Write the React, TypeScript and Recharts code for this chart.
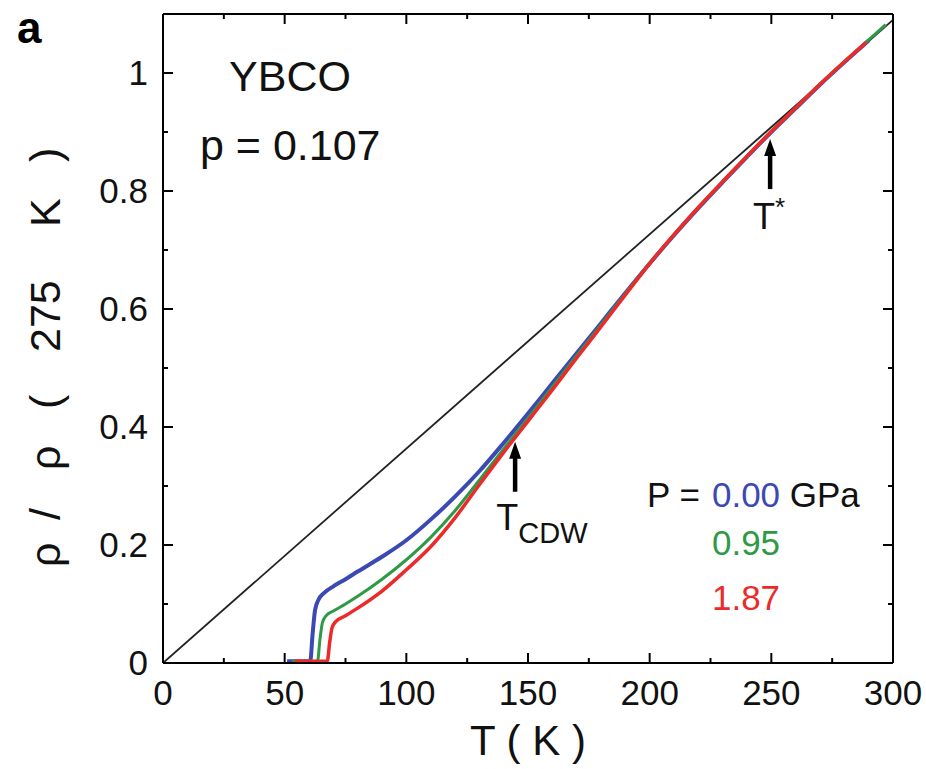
import React from 'react';
import { LineChart, Line, XAxis, YAxis, ReferenceDot } from 'recharts';

const FONT = '"Liberation Sans", Arial, Helvetica, sans-serif';

// x ticks (K) and y ticks (normalised resistivity), majors get labels
const xTicks = [0, 25, 50, 75, 100, 125, 150, 175, 200, 225, 250, 275, 300];
const yTicks = [0, 0.1, 0.2, 0.3, 0.4, 0.5, 0.6, 0.7, 0.8, 0.9, 1.0];
const yTickLabels: Record<string, string> = { '0': '0', '0.2': '0.2', '0.4': '0.4', '0.6': '0.6', '0.8': '0.8', '1': '1' };

// y axis title pieces, spread out like the original
const yTitleParts = ['ρ', '/', 'ρ', '(', '275', 'K', ')'];
const yTitleOffsets = [0, 47, 97, 158, 215, 340, 405];

// straight reference line rho ~ T
const refT = [0, 300];
const refRho = [0, 1.09];

// P = 0.00 GPa
const blueT = [51, 60.5, 61.5, 62.5, 64, 66, 70, 75, 80, 90, 100, 110, 120, 130, 140, 150, 160, 170, 180, 190, 200, 210, 220, 230, 240, 250, 260, 270, 280, 290];
const blueRho = [0.003, 0.003, 0.05, 0.09, 0.108, 0.118, 0.13, 0.142, 0.155, 0.18, 0.208, 0.243, 0.282, 0.325, 0.373, 0.423, 0.474, 0.525, 0.576, 0.627, 0.677, 0.725, 0.771, 0.815, 0.858, 0.9, 0.94, 0.98, 1.018, 1.055];

// P = 0.95 GPa
const greenT = [53, 63.5, 64.5, 65.5, 67, 70, 75, 80, 90, 100, 110, 120, 130, 140, 150, 160, 170, 180, 190, 200, 210, 220, 230, 240, 250, 260, 270, 280, 290, 297];
const greenRho = [0.003, 0.003, 0.04, 0.068, 0.08, 0.088, 0.1, 0.113, 0.142, 0.175, 0.213, 0.258, 0.31, 0.363, 0.415, 0.468, 0.521, 0.573, 0.626, 0.678, 0.726, 0.772, 0.816, 0.859, 0.901, 0.941, 0.981, 1.019, 1.056, 1.082];

// P = 1.87 GPa
const redT = [54, 67.5, 68.5, 69.5, 71, 75, 80, 90, 100, 110, 120, 130, 140, 150, 160, 170, 180, 190, 200, 210, 220, 230, 240, 250, 260, 270, 280, 289];
const redRho = [0.003, 0.003, 0.035, 0.06, 0.07, 0.08, 0.093, 0.122, 0.158, 0.197, 0.246, 0.302, 0.357, 0.41, 0.463, 0.517, 0.57, 0.624, 0.677, 0.726, 0.772, 0.816, 0.859, 0.901, 0.941, 0.981, 1.019, 1.052];

const pressures = ['0.00', '0.95', '1.87'];
const colors = ['#3b49b3', '#2f9a45', '#ec2a2a'];

const toRows = (ts: number[], vs: number[]) => ts.map((t, i) => ({ T: t, rho: vs[i] }));

const refData = toRows(refT, refRho);
const blueData = toRows(blueT, blueRho);
const greenData = toRows(greenT, greenRho);
const redData = toRows(redT, redRho);

const BottomTick = (props: any) => {
  const { x, y, payload } = props;
  const major = payload.value % 50 === 0;
  return (
    <g>
      <line x1={x} x2={x} y1={y} y2={y - (major ? 10 : 5)} stroke="#000" strokeWidth={2} />
      {major && (
        <text x={x} y={y + 42} textAnchor="middle" fontSize={35} fontFamily={FONT} fill="#111">
          {payload.value}
        </text>
      )}
    </g>
  );
};

const TopTick = (props: any) => {
  const { x, y, payload } = props;
  const major = payload.value % 50 === 0;
  return <line x1={x} x2={x} y1={y} y2={y + (major ? 10 : 5)} stroke="#000" strokeWidth={2} />;
};

const LeftTick = (props: any) => {
  const { x, y, payload } = props;
  const key = String(Math.round(payload.value * 10) / 10);
  const label = yTickLabels[key];
  return (
    <g>
      <line x1={x} x2={x + (label ? 10 : 5)} y1={y} y2={y} stroke="#000" strokeWidth={2} />
      {label && (
        <text x={x - 15} y={y + 12} textAnchor="end" fontSize={35} fontFamily={FONT} fill="#111">
          {label}
        </text>
      )}
    </g>
  );
};

const RightTick = (props: any) => {
  const { x, y, payload } = props;
  const major = Math.round(payload.value * 10) % 2 === 0;
  return <line x1={x} x2={x - (major ? 10 : 5)} y1={y} y2={y} stroke="#000" strokeWidth={2} />;
};

const Arrow = (props: any) => {
  const { cx, cy } = props;
  // cx, cy is the arrow tip
  return (
    <g>
      <line x1={cx} x2={cx} y1={cy + 14} y2={cy + 50} stroke="#000" strokeWidth={4.5} />
      <polygon points={`${cx},${cy} ${cx - 6},${cy + 17} ${cx + 6},${cy + 17}`} fill="#000" />
    </g>
  );
};

const axisLine = { stroke: '#000', strokeWidth: 2 };

export default function App() {
  return (
    <div style={{ position: 'absolute', left: 0, top: 0, width: 926, height: 769, background: '#fff' }}>
      <div style={{ position: 'absolute', left: 17, top: 6, fontFamily: FONT, fontWeight: 'bold', fontSize: 44, lineHeight: '44px' }}>a</div>
      <LineChart width={926} height={769} margin={{ top: 13, right: 32, bottom: 46, left: 103 }}>
        <XAxis
          xAxisId="b"
          type="number"
          dataKey="T"
          domain={[0, 300]}
          ticks={xTicks}
          tick={BottomTick}
          tickSize={0}
          tickMargin={0}
          tickLine={false}
          axisLine={axisLine}
          height={60}
          allowDataOverflow
          label={{
            content: (p: any) => {
              const vb = p.viewBox;
              return (
                <text x={vb.x + vb.width / 2} y={vb.y + 92} textAnchor="middle" fontSize={42} fontFamily={FONT} fill="#111">
                  T ( K )
                </text>
              );
            },
          }}
        />
        <XAxis
          xAxisId="t"
          orientation="top"
          type="number"
          dataKey="T"
          domain={[0, 300]}
          ticks={xTicks}
          tick={TopTick}
          tickSize={0}
          tickMargin={0}
          tickLine={false}
          axisLine={axisLine}
          height={1}
          allowDataOverflow
        />
        <YAxis
          yAxisId="l"
          type="number"
          domain={[0, 1.1]}
          ticks={yTicks}
          tick={LeftTick}
          tickSize={0}
          tickMargin={0}
          tickLine={false}
          axisLine={axisLine}
          width={60}
          allowDataOverflow
          label={{
            content: (p: any) => {
              const vb = p.viewBox;
              const cx = vb.x - 58;
              const bottom = vb.y + vb.height - 96;
              return (
                <text
                  transform={`translate(${cx} ${bottom}) rotate(-90)`}
                  dominantBaseline="central"
                  fontSize={43}
                  fontFamily={FONT}
                  fill="#111"
                >
                  {yTitleParts.map((s, i) => (
                    <tspan key={i} x={yTitleOffsets[i]} y={0}>{s}</tspan>
                  ))}
                </text>
              );
            },
          }}
        />
        <YAxis
          yAxisId="r"
          orientation="right"
          type="number"
          domain={[0, 1.1]}
          ticks={yTicks}
          tick={RightTick}
          tickSize={0}
          tickMargin={0}
          tickLine={false}
          axisLine={axisLine}
          width={1}
          allowDataOverflow
        />

        <Line xAxisId="b" yAxisId="l" data={refData} dataKey="rho" type="linear" stroke="#222" strokeWidth={1.8} dot={false} isAnimationActive={false} />
        <Line xAxisId="b" yAxisId="l" data={blueData} dataKey="rho" type="monotone" stroke={colors[0]} strokeWidth={4} dot={false} isAnimationActive={false} />
        <Line xAxisId="b" yAxisId="l" data={greenData} dataKey="rho" type="monotone" stroke={colors[1]} strokeWidth={3} dot={false} isAnimationActive={false} />
        <Line xAxisId="b" yAxisId="l" data={redData} dataKey="rho" type="monotone" stroke={colors[2]} strokeWidth={3.5} dot={false} isAnimationActive={false} />

        {/* arrows marking T_CDW and T* */}
        <ReferenceDot xAxisId="b" yAxisId="l" x={144.7} y={0.375} r={0} shape={Arrow} />
        <ReferenceDot xAxisId="b" yAxisId="l" x={249.5} y={0.888} r={0} shape={Arrow} />
        <ReferenceDot
          xAxisId="b" yAxisId="l" x={137} y={0.225} r={0}
          shape={(p: any) => (
            <text x={p.cx} y={p.cy} fontSize={36} fontFamily={FONT} fill="#111">
              T<tspan fontSize={29} dy={13}>CDW</tspan>
            </text>
          )}
        />
        <ReferenceDot
          xAxisId="b" yAxisId="l" x={242.5} y={0.735} r={0} shape={(p: any) => (
            <text x={p.cx} y={p.cy} fontSize={36} fontFamily={FONT} fill="#111">
              T<tspan fontSize={26} dy={-13}>*</tspan>
            </text>
          )}
        />

        {/* sample labels */}
        <ReferenceDot
          xAxisId="b" yAxisId="l" x={52.2} y={0.969} r={0}
          shape={(p: any) => (
            <text x={p.cx} y={p.cy} textAnchor="middle" fontSize={43} fontFamily={FONT} fill="#111">YBCO</text>
          )}
        />
        <ReferenceDot
          xAxisId="b" yAxisId="l" x={15.2} y={0.853} r={0}
          shape={(p: any) => (
            <text x={p.cx} y={p.cy} fontSize={43} fontFamily={FONT} fill="#111">p = 0.107</text>
          )}
        />

        {/* pressure legend */}
        <ReferenceDot
          xAxisId="b" yAxisId="l" x={225.6} y={0.265} r={0}
          shape={(p: any) => (
            <g>
              <text x={p.cx - 12} y={p.cy} textAnchor="end" fontSize={35} fontFamily={FONT} fill="#111">P =</text>
              <text x={p.cx} y={p.cy} fontSize={35} fontFamily={FONT} fill={colors[0]}>
                {pressures[0]}
                <tspan fill="#111"> GPa</tspan>
              </text>
            </g>
          )}
        />
        <ReferenceDot
          xAxisId="b" yAxisId="l" x={225.6} y={0.183} r={0}
          shape={(p: any) => (
            <text x={p.cx} y={p.cy} fontSize={35} fontFamily={FONT} fill={colors[1]}>{pressures[1]}</text>
          )}
        />
        <ReferenceDot
          xAxisId="b" yAxisId="l" x={225.6} y={0.09} r={0}
          shape={(p: any) => (
            <text x={p.cx} y={p.cy} fontSize={35} fontFamily={FONT} fill={colors[2]}>{pressures[2]}</text>
          )}
        />
      </LineChart>
    </div>
  );
}
